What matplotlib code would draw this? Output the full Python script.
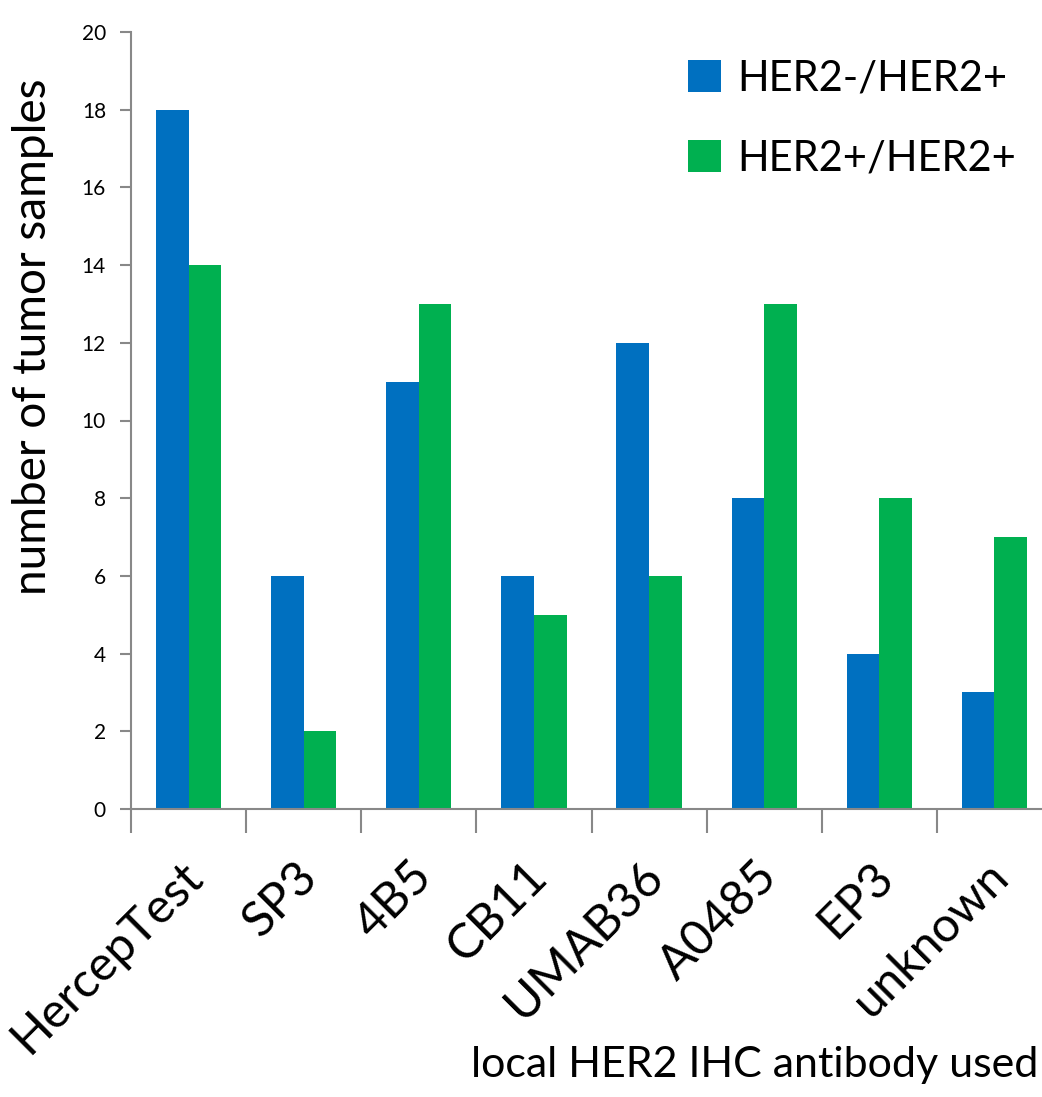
import matplotlib.pyplot as plt
import numpy as np

plt.rcParams['font.family'] = ['Lato', 'DejaVu Sans']

antibodies = ["HercepTest", "SP3", "4B5", "CB11", "UMAB36", "A0485", "EP3", "unknown"]
her2_neg_pos = [18, 6, 11, 6, 12, 8, 4, 3]
her2_pos_pos = [14, 2, 13, 5, 6, 13, 8, 7]
series_names = ["HER2-/HER2+", "HER2+/HER2+"]
colors = ["#0070C0", "#00B050"]

fig = plt.figure(figsize=(10.42, 10.97), dpi=100)
# axes runs slightly past the right edge, like the original
ax = fig.add_axes([131 / 1042, 1 - 809 / 1097, 921 / 1042, 777 / 1097])

x = np.arange(len(antibodies))
w = 0.283
ax.bar(x - w / 2, her2_neg_pos, w, color=colors[0], label=series_names[0])
ax.bar(x + w / 2, her2_pos_pos, w, color=colors[1], label=series_names[1])

ax.set_xlim(-0.5, len(antibodies) - 0.5)
ax.set_ylim(0, 20)
ax.set_yticks(range(0, 21, 2))
ax.tick_params(axis='y', labelsize=15, length=8, color='#888888', width=1.5, pad=10)

ax.set_xticks(np.arange(-0.5, len(antibodies) - 0.4, 1))
ax.set_xticklabels([])
ax.tick_params(axis='x', length=17, color='#888888', width=1.5)
for i, name in enumerate(antibodies):
    ax.text(i - 0.08, -1.15, name, rotation=45, ha='right', va='top',
            rotation_mode='anchor', fontsize=35)

for side in ['top', 'right']:
    ax.spines[side].set_visible(False)
for side in ['left', 'bottom']:
    ax.spines[side].set_color('#888888')
    ax.spines[side].set_linewidth(1.5)

fig.text(33 / 1042, 1 - 337 / 1097, "number of tumor samples", fontsize=33,
         rotation=90, ha='center', va='center')
fig.text(1038 / 1042, 1 - 1065 / 1097, "local HER2 IHC antibody used",
         fontsize=31, ha='right', va='center')

fig.legend(loc='upper left', bbox_to_anchor=(650 / 1042, 1 - 22 / 1097), frameon=False,
           fontsize=30, handlelength=0.8, handleheight=0.8, handletextpad=0.4,
           labelspacing=1.0)

plt.savefig('out.png')
